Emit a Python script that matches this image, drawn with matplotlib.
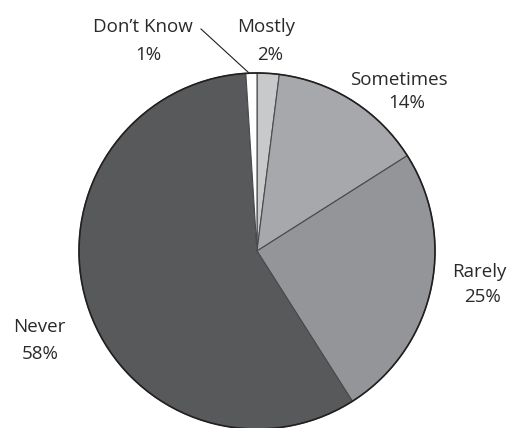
import matplotlib
matplotlib.use("Agg")
import matplotlib.pyplot as plt
from matplotlib.patches import Circle

categories = ["Mostly", "Sometimes", "Rarely", "Never", "Don\u2019t Know"]
values = [2, 14, 25, 58, 1]
pct_labels = ["2%", "14%", "25%", "58%", "1%"]
colors = ["#c8c9cb", "#a7a8ab", "#939598", "#58595b", "#ffffff"]

# label layout in pixels: (name centre x, name baseline y, pct centre x, pct baseline y), y from top
label_pos = [(266, 32, 270, 60), (399, 85, 407, 108), (479, 277, 483, 302),
             (39, 332, 40, 359), (143, 32, 148, 60)]

W, H = 509, 428
fig = plt.figure(figsize=(W / 100, H / 100), dpi=100)
ax = fig.add_axes([0, 0, 1, 1])

cx, cy, r = 257, H - 251, 178
ax.pie(values, colors=colors, startangle=90, counterclock=False,
       center=(cx, cy), radius=r, frame=True,
       wedgeprops=dict(edgecolor="#4a4a4c", linewidth=0.8))
ax.set_xlim(0, W)
ax.set_ylim(0, H)
ax.set_aspect("equal")
ax.axis("off")
ax.add_patch(Circle((cx, cy), r, fill=False, edgecolor="#231f20", linewidth=1.2))

font = dict(family=["Open Sans", "DejaVu Sans"], fontsize=13.5, color="#2b2829")
for name, pct, (x1, y1, x2, y2) in zip(categories, pct_labels, label_pos):
    ax.text(x1, H - y1, name, ha="center", va="baseline", **font)
    ax.text(x2, H - y2, pct, ha="center", va="baseline", **font)

# leader line for Don't Know
ax.plot([201, 249], [H - 29, H - 73], color="#231f20", linewidth=0.8)

fig.savefig("out.png", dpi=100)
